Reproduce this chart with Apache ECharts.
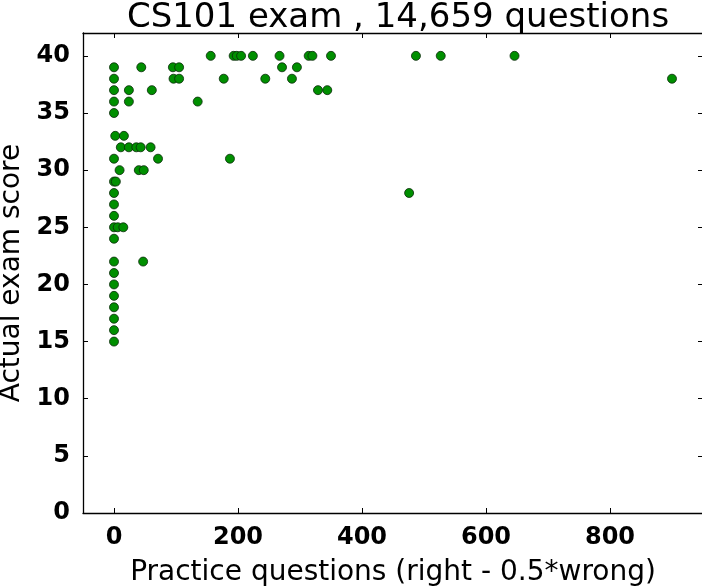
<!DOCTYPE html>
<html>
<head>
<meta charset="utf-8">
<script src="https://cdn.jsdelivr.net/npm/echarts@6/dist/echarts.min.js"></script>
<style>
  body { margin: 0; background: #fff; }
  #chart { width: 702px; height: 587px; }
</style>
</head>
<body>
<div id="chart"></div>
<script>
// practice questions (right - 0.5*wrong) vs actual exam score
var practice = [
  156, 193, 198, 205, 224, 267, 314, 320, 350, 487, 527, 646,
  0, 44, 95, 105, 271, 295,
  0, 96, 105, 177, 244, 287, 900,
  0, 24, 61, 329, 344,
  0, 24, 135,
  0,
  2, 16,
  11, 24, 36, 43, 59,
  0, 71, 187,
  9, 40, 48,
  0, 3,
  0, 476,
  0, 0,
  0, 6, 15,
  0,
  0, 47,
  0, 0, 0, 0, 0, 0, 0
];
var score = [
  40, 40, 40, 40, 40, 40, 40, 40, 40, 40, 40, 40,
  39, 39, 39, 39, 39, 39,
  38, 38, 38, 38, 38, 38, 38,
  37, 37, 37, 37, 37,
  36, 36, 36,
  35,
  33, 33,
  32, 32, 32, 32, 32,
  31, 31, 31,
  30, 30, 30,
  29, 29,
  28, 28,
  27, 26,
  25, 25, 25,
  24,
  22, 22,
  21, 20, 19, 18, 17, 16, 15
];
var xTicks = [0, 200, 400, 600, 800];
var yTicks = [0, 5, 10, 15, 20, 25, 30, 35, 40];

var points = [];
for (var i = 0; i < practice.length; i++) {
  points.push([practice[i], score[i]]);
}

var lineStyle = { color: '#000', width: 1.3 };
var tick = { show: true, inside: true, length: 5, lineStyle: { color: '#000', width: 1 } };
var labelFont = { fontFamily: 'DejaVu Sans', fontWeight: 'bold', fontSize: 24, color: '#000' };

var chart = echarts.init(document.getElementById('chart'));
chart.setOption({
  animation: false,
  title: {
    text: 'CS101 exam , 14,659 questions',
    left: 393,
    textAlign: 'center',
    top: -4,
    textStyle: { fontFamily: 'DejaVu Sans', fontWeight: 'normal', fontSize: 34, color: '#000' }
  },
  grid: { left: 83, right: -1, top: 33, bottom: 74, outerBoundsMode: 'none', containLabel: false },
  xAxis: [{
    type: 'value',
    min: -50,
    max: 950,
    name: 'Practice questions (right - 0.5*wrong)',
    nameLocation: 'middle',
    nameGap: 46,
    nameTextStyle: { fontFamily: 'DejaVu Sans', fontSize: 28, color: '#000' },
    axisLine: { show: true, onZero: false, lineStyle: lineStyle },
    axisTick: Object.assign({ customValues: xTicks }, tick),
    axisLabel: Object.assign({ customValues: xTicks, margin: 13 }, labelFont),
    splitLine: { show: false }
  }, {
    type: 'value',
    position: 'top',
    min: -50,
    max: 950,
    axisLine: { show: true, onZero: false, lineStyle: lineStyle },
    axisTick: Object.assign({ customValues: xTicks }, tick),
    axisLabel: { show: false },
    splitLine: { show: false }
  }],
  yAxis: [{
    type: 'value',
    min: 0,
    max: 42,
    name: 'Actual exam score',
    nameLocation: 'middle',
    nameGap: 54,
    nameTextStyle: { fontFamily: 'DejaVu Sans', fontSize: 28, color: '#000' },
    axisLine: { show: true, onZero: false, lineStyle: lineStyle },
    axisTick: Object.assign({ customValues: yTicks }, tick),
    axisLabel: Object.assign({ customValues: yTicks, margin: 13 }, labelFont),
    splitLine: { show: false }
  }, {
    type: 'value',
    position: 'right',
    min: 0,
    max: 42,
    axisLine: { show: true, onZero: false, lineStyle: lineStyle },
    axisTick: Object.assign({ customValues: yTicks }, tick),
    axisLabel: { show: false },
    splitLine: { show: false }
  }],
  series: [{
    type: 'scatter',
    data: points,
    symbol: 'circle',
    symbolSize: 9,
    itemStyle: { color: '#008f00', borderColor: '#0a2a0a', borderWidth: 0.8, opacity: 1 }
  }]
});
</script>
</body>
</html>
